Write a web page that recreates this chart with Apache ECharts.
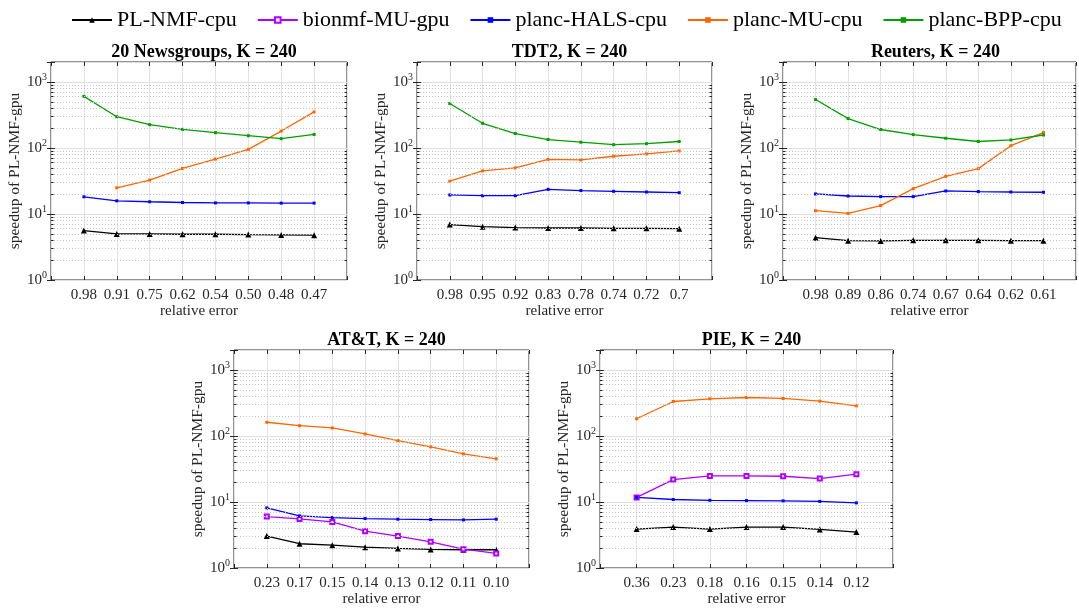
<!DOCTYPE html>
<html>
<head>
<meta charset="utf-8">
<title>Speedup of PL-NMF-gpu</title>
<script src="https://cdn.jsdelivr.net/npm/echarts@6/dist/echarts.min.js"></script>
<style>
  html, body { margin: 0; padding: 0; background: #ffffff; }
  #chart { width: 1079px; height: 610px; }
</style>
</head>
<body>
<div id="chart"></div>
<script>
// ---- series names and colours ----
const seriesNames = ['PL-NMF-cpu', 'bionmf-MU-gpu', 'planc-HALS-cpu', 'planc-MU-cpu', 'planc-BPP-cpu'];

// ---- 20 Newsgroups, K = 240 ----
const newsErrors = ['0.98', '0.91', '0.75', '0.62', '0.54', '0.50', '0.48', '0.47'];
const newsPL   = [5.6, 4.99, 4.99, 4.93, 4.93, 4.87, 4.82, 4.77];
const newsHALS = [18.2, 15.8, 15.3, 14.9, 14.7, 14.7, 14.6, 14.6];
const newsMU   = [null, 24.9, 32.6, 48.9, 67.8, 95, 180, 351];
const newsBPP  = [604, 297, 225, 191, 170, 153, 138, 160];

// ---- TDT2, K = 240 ----
const tdtErrors = ['0.98', '0.95', '0.92', '0.83', '0.78', '0.74', '0.72', '0.7'];
const tdtPL   = [6.9, 6.43, 6.21, 6.13, 6.13, 6.06, 6.06, 5.99];
const tdtHALS = [19.4, 18.9, 18.9, 23.6, 22.6, 22.0, 21.5, 21.0];
const tdtMU   = [31.3, 44.8, 49.8, 67.3, 65.8, 74.8, 81.1, 90.1];
const tdtBPP  = [470, 236, 165, 134, 122, 112, 116, 125];

// ---- Reuters, K = 240 ----
const reutersErrors = ['0.98', '0.89', '0.86', '0.74', '0.67', '0.64', '0.62', '0.61'];
const reutersPL   = [4.38, 3.94, 3.90, 3.99, 3.99, 3.99, 3.94, 3.94];
const reutersHALS = [20.1, 18.7, 18.3, 18.3, 22.3, 21.8, 21.5, 21.3];
const reutersMU   = [11.2, 10.2, 13.4, 24.2, 37.2, 48.6, 108, 171];
const reutersBPP  = [540, 278, 190, 159, 140, 125, 132, 157];

// ---- AT&T, K = 240 ----
const attErrors = ['0.23', '0.17', '0.15', '0.14', '0.13', '0.12', '0.11', '0.10'];
const attPL     = [3.04, 2.33, 2.22, 2.07, 1.98, 1.91, 1.89, 1.89];
const attBionmf = [6.01, 5.54, 4.99, 3.61, 3.04, 2.49, 1.93, 1.66];
const attHALS   = [8.12, 6.15, 5.81, 5.61, 5.48, 5.42, 5.35, 5.48];
const attMU     = [161, 143, 132, 107, 85, 68.3, 53.5, 45.0];

// ---- PIE, K = 240 ----
const pieErrors = ['0.36', '0.23', '0.18', '0.16', '0.15', '0.14', '0.12'];
const piePL     = [3.88, 4.16, 3.88, 4.16, 4.16, 3.84, 3.50];
const pieBionmf = [11.7, 21.8, 24.8, 24.8, 24.5, 22.6, 26.3];
const pieHALS   = [11.7, 10.9, 10.6, 10.5, 10.4, 10.2, 9.7];
const pieMU     = [182, 332, 365, 382, 369, 336, 286];

// ---- look of each method ----
const styles = {
  'PL-NMF-cpu':     { color: '#000000', symbol: 'triangle',  size: 6 },
  'bionmf-MU-gpu':  { color: '#b000ff', symbol: 'emptyRect', size: 4 },
  'planc-HALS-cpu': { color: '#0000ff', symbol: 'rect',      size: 3 },
  'planc-MU-cpu':   { color: '#ff6600', symbol: 'rect',      size: 3 },
  'planc-BPP-cpu':  { color: '#00a000', symbol: 'rect',      size: 3 }
};

// ---- panels: title, x tick labels, series, and plot box ----
const panels = [
  { title: '20 Newsgroups, K = 240', labels: newsErrors,
    series: { 'PL-NMF-cpu': newsPL, 'planc-HALS-cpu': newsHALS, 'planc-MU-cpu': newsMU, 'planc-BPP-cpu': newsBPP },
    box: { left: 51, top: 62, width: 296, height: 218 } },
  { title: 'TDT2, K = 240', labels: tdtErrors,
    series: { 'PL-NMF-cpu': tdtPL, 'planc-HALS-cpu': tdtHALS, 'planc-MU-cpu': tdtMU, 'planc-BPP-cpu': tdtBPP },
    box: { left: 417, top: 62, width: 295, height: 218 } },
  { title: 'Reuters, K = 240', labels: reutersErrors,
    series: { 'PL-NMF-cpu': reutersPL, 'planc-HALS-cpu': reutersHALS, 'planc-MU-cpu': reutersMU, 'planc-BPP-cpu': reutersBPP },
    box: { left: 783, top: 62, width: 295, height: 218 } },
  { title: 'AT&T, K = 240', labels: attErrors,
    series: { 'PL-NMF-cpu': attPL, 'bionmf-MU-gpu': attBionmf, 'planc-HALS-cpu': attHALS, 'planc-MU-cpu': attMU },
    box: { left: 234, top: 350, width: 295, height: 218 } },
  { title: 'PIE, K = 240', labels: pieErrors,
    series: { 'PL-NMF-cpu': piePL, 'bionmf-MU-gpu': pieBionmf, 'planc-HALS-cpu': pieHALS, 'planc-MU-cpu': pieMU },
    box: { left: 600, top: 350, width: 293, height: 218 } }
];

const FONT = '"Liberation Serif", "Times New Roman", serif';
const AXIS_GRAY = '#262626';
const Y_MIN = 1, Y_MAX = 2000;

// minor log grid values 2..9, 20..90, 200..900
const minorValues = [];
[1, 10, 100].forEach(function (d) { for (let k = 2; k <= 9; k++) minorValues.push(k * d); });

function decadeLabel(v) {
  const e = Math.log10(v);
  const r = Math.round(e);
  if (Math.abs(e - r) > 1e-6) return '';
  return '{b|10}{sup|' + r + '}';
}

const grids = [], xAxes = [], yAxes = [], titles = [], allSeries = [];

panels.forEach(function (p, g) {
  const n = p.labels.length;
  const xMax = n + 1;
  grids.push({
    left: p.box.left, top: p.box.top, width: p.box.width, height: p.box.height,
    show: true, borderColor: AXIS_GRAY, borderWidth: 1, backgroundColor: 'transparent'
  });
  titles.push({
    text: p.title, left: p.box.left + p.box.width / 2, top: p.box.top - 24, textAlign: 'center',
    textStyle: { fontFamily: FONT, fontSize: 18, fontWeight: 'bold', color: '#000' }
  });
  // bottom x axis with error labels
  xAxes.push({
    gridIndex: g, type: 'value', min: 0, max: xMax, interval: 1,
    name: 'relative error', nameLocation: 'middle', nameGap: 22,
    nameTextStyle: { fontFamily: FONT, fontSize: 15, color: AXIS_GRAY },
    axisLine: { show: false },
    axisTick: { show: true, inside: true, length: 4, lineStyle: { color: AXIS_GRAY } },
    axisLabel: {
      fontFamily: FONT, fontSize: 15, color: AXIS_GRAY, margin: 8,
      showMinLabel: true, showMaxLabel: true,
      formatter: function (v) { return (v >= 1 && v <= n) ? p.labels[v - 1] : ''; }
    },
    splitLine: { show: true, lineStyle: { color: '#e3e3e3', width: 1 } }
  });
  // top x axis carries the box ticks only
  xAxes.push({
    gridIndex: g, type: 'value', position: 'top', min: 0, max: xMax, interval: 1,
    axisLine: { show: false },
    axisTick: { show: true, inside: true, length: 4, lineStyle: { color: AXIS_GRAY } },
    axisLabel: { show: false }, splitLine: { show: false }
  });
  // left log axis
  yAxes.push({
    gridIndex: g, type: 'log', logBase: 10, min: Y_MIN, max: Y_MAX,
    name: 'speedup of PL-NMF-gpu', nameLocation: 'middle', nameGap: 22,
    nameTextStyle: { fontFamily: FONT, fontSize: 15.5, color: AXIS_GRAY },
    axisLine: { show: false },
    axisTick: { show: true, inside: true, length: 4, lineStyle: { color: AXIS_GRAY } },
    axisLabel: {
      fontFamily: FONT, color: AXIS_GRAY, margin: 4,
      formatter: decadeLabel,
      rich: {
        b: { fontFamily: FONT, fontSize: 15, color: AXIS_GRAY, lineHeight: 20 },
        sup: { fontFamily: FONT, fontSize: 10, color: AXIS_GRAY, lineHeight: 10, verticalAlign: 'top' }
      }
    },
    splitLine: { show: true, lineStyle: { color: '#e0e0e0', width: 1 } }
  });
  // right log axis carries the box ticks only
  yAxes.push({
    gridIndex: g, type: 'log', logBase: 10, min: Y_MIN, max: Y_MAX, position: 'right',
    axisLine: { show: false },
    axisTick: { show: true, inside: true, length: 4, lineStyle: { color: AXIS_GRAY } },
    axisLabel: { show: false }, splitLine: { show: false }
  });

  // minor grid (dotted) and minor ticks on both sides
  const tickLen = 2.5 * xMax / p.box.width;
  const markData = [];
  minorValues.forEach(function (v) {
    markData.push({ yAxis: v, lineStyle: { type: [1, 2], color: '#c4c4c4', width: 1 } });
    markData.push([
      { coord: [0, v], lineStyle: { type: 'solid', color: AXIS_GRAY, width: 1 } },
      { coord: [tickLen, v] }
    ]);
    markData.push([
      { coord: [xMax - tickLen, v], lineStyle: { type: 'solid', color: AXIS_GRAY, width: 1 } },
      { coord: [xMax, v] }
    ]);
  });
  allSeries.push({
    type: 'line', xAxisIndex: 2 * g, yAxisIndex: 2 * g, data: [], z: 1, silent: true,
    markLine: { silent: true, symbol: 'none', label: { show: false }, animation: false, data: markData }
  });

  seriesNames.forEach(function (name) {
    const vals = p.series[name];
    if (!vals) return;
    const st = styles[name];
    allSeries.push({
      name: name, type: 'line', xAxisIndex: 2 * g, yAxisIndex: 2 * g, z: 3,
      data: vals.map(function (v, i) { return [i + 1, v]; }),
      symbol: st.symbol, symbolSize: st.size, showSymbol: true,
      connectNulls: false,
      lineStyle: { color: st.color, width: 1.3 },
      itemStyle: { color: st.color, borderColor: st.color, borderWidth: st.symbol === 'emptyRect' ? 1.2 : 0 },
      animation: false
    });
  });
});

const chart = echarts.init(document.getElementById('chart'), null, { renderer: 'canvas' });
chart.setOption({
  backgroundColor: '#ffffff',
  animation: false,
  title: titles,
  legend: {
    data: seriesNames, left: 66, top: 4,
    itemWidth: 40, itemHeight: 7, itemGap: 20,
    textStyle: { fontFamily: FONT, fontSize: 22, color: '#000' }
  },
  grid: grids,
  xAxis: xAxes,
  yAxis: yAxes,
  series: allSeries
});
</script>
</body>
</html>
